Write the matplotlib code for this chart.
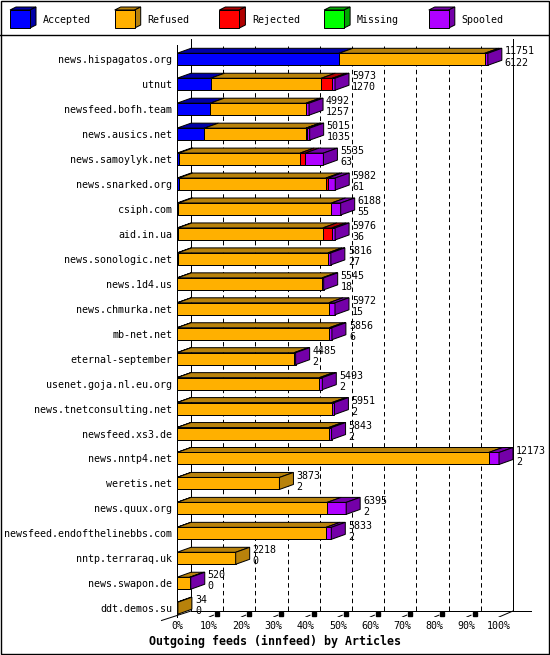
import matplotlib
matplotlib.use("Agg")
import matplotlib.pyplot as plt
from matplotlib.patches import Polygon, Rectangle

plt.rcParams['lines.scale_dashes'] = False

# ---------------- data ----------------
hosts = ["news.hispagatos.org", "utnut", "newsfeed.bofh.team", "news.ausics.net",
         "news.samoylyk.net", "news.snarked.org", "csiph.com", "aid.in.ua",
         "news.sonologic.net", "news.1d4.us", "news.chmurka.net", "mb-net.net",
         "eternal-september", "usenet.goja.nl.eu.org", "news.tnetconsulting.net",
         "newsfeed.xs3.de", "news.nntp4.net", "weretis.net", "news.quux.org",
         "newsfeed.endofthelinebbs.com", "nntp.terraraq.uk", "news.swapon.de",
         "ddt.demos.su"]
offered = [11751, 5973, 4992, 5015, 5535, 5982, 6188, 5976, 5816, 5545, 5972, 5856,
           4485, 5493, 5951, 5843, 12173, 3873, 6395, 5833, 2218, 520, 34]
accepted = [6122, 1270, 1257, 1035, 63, 61, 55, 36, 27, 18, 15, 6,
            2, 2, 2, 2, 2, 2, 2, 2, 0, 0, 0]
refused = [5509, 4183, 3615, 3840, 4592, 5566, 5783, 5475, 5679, 5467, 5727, 5750,
           4423, 5381, 5849, 5731, 11781, 3871, 5673, 5631, 2218, 480, 34]
rejected = [0, 420, 0, 30, 190, 75, 0, 340, 0, 0, 0, 0,
            0, 0, 0, 0, 0, 0, 0, 0, 0, 0, 0]
missing = [0] * 23
spooled = [120, 100, 120, 110, 690, 280, 350, 125, 110, 60, 230, 100,
           60, 110, 100, 110, 390, 0, 720, 200, 0, 40, 0]
series_names = ["Accepted", "Refused", "Rejected", "Missing", "Spooled"]
pct_ticks = [0, 10, 20, 30, 40, 50, 60, 70, 80, 90, 100]
xlabel = "Outgoing feeds (innfeed) by Articles"

# ---------------- style ----------------
front_cols = ['#0000FF', '#FFB000', '#FF0000', '#00FF00', '#B000FF']
dark_cols = ['#0000A8', '#B8820B', '#B00000', '#00A800', '#7400A8']
MONO = 'DejaVu Sans Mono'
FS = 7.2
LW = 0.72

W, H = 550, 655
fig = plt.figure(figsize=(W / 100, H / 100), dpi=100)
fig.patch.set_facecolor('white')

# border axes (pixel frame)
bax = fig.add_axes([0, 0, 1, 1], zorder=0)
bax.set_xlim(0, W); bax.set_ylim(H, 0); bax.axis('off')
bax.add_patch(Rectangle((0.5, 0.5), W - 1.5, H - 1.5, fill=False, ec='black', lw=LW * 1.4))
bax.plot([0, W], [35, 35], color='black', lw=LW * 1.4)

# ---------------- legend ----------------
lax = fig.add_axes([0, 1 - 35 / H, 1, 35 / H], zorder=2)
lax.set_xlim(0, W); lax.set_ylim(35, 0); lax.axis('off')
step = 104.7
for j, name in enumerate(series_names):
    x0 = 10 + step * j
    fw, fh, ddx, ddy, ytop = 20, 18, 6, 3, 10
    lax.add_patch(Polygon([(x0, ytop), (x0 + fw, ytop), (x0 + fw + ddx, ytop - ddy), (x0 + ddx, ytop - ddy)],
                          closed=True, fc=dark_cols[j], ec='black', lw=LW))
    lax.add_patch(Polygon([(x0 + fw, ytop), (x0 + fw + ddx, ytop - ddy), (x0 + fw + ddx, ytop + fh - ddy), (x0 + fw, ytop + fh)],
                          closed=True, fc=dark_cols[j], ec='black', lw=LW))
    lax.add_patch(Rectangle((x0, ytop), fw, fh, fc=front_cols[j], ec='black', lw=LW))
    lax.text(x0 + 33, 20, name, family=MONO, fontsize=FS, va='center', ha='left')

# ---------------- main plot ----------------
PXX = 3.22      # px per percent
PXY = 24.95     # px per row
ROW0 = 59.3     # px of first row center
AX_L, AX_R, AX_T, AX_B = 177, 549, 36, 617
ax = fig.add_axes([AX_L / W, 1 - AX_B / H, (AX_R - AX_L) / W, (AX_B - AX_T) / H], zorder=1)
ax.set_xlim(0, (AX_R - AX_L) / PXX)
ax.set_ylim((AX_B - ROW0) / PXY, (AX_T - ROW0) / PXY)
ax.patch.set_alpha(0)
for s in ax.spines.values():
    s.set_visible(False)

DX = 14 / PXX
DY = 5 / PXY
HH = 6 / PXY
floor_front = (AX_B - ROW0) / PXY
floor_back = (611 - ROW0) / PXY
top_back = (39 - ROW0) / PXY
top_front = (45 - ROW0) / PXY

# walls / axes lines
ax.plot([0, 0], [top_front, floor_front], color='black', lw=LW, clip_on=False, zorder=2)
ax.plot([DX, DX], [top_back, floor_back], color='black', lw=LW, zorder=1)
ax.plot([100 + DX, 100 + DX], [top_back, floor_back], color='black', lw=LW, zorder=1)
ax.plot([DX, 100 + DX + 18 / PXX], [floor_back, floor_back], color='black', lw=LW, zorder=1)
ax.plot([-15.5 / PXX, DX], [floor_back + 9.5 / PXY, floor_back], color='black', lw=LW, clip_on=False, zorder=1)
ax.plot([100, 100 + DX], [floor_front, floor_back], color='black', lw=LW, zorder=1)
for p in pct_ticks[1:-1]:
    ax.plot([p + DX, p + DX], [top_back + 0.3, floor_back], color='black', lw=LW,
            linestyle=(0, (3.2, 2.4)), zorder=1)
    ax.plot([p, p + DX * 0.3], [floor_front, floor_front - DY * 0.3 * 1.2], color='black', lw=LW, zorder=1)
    ax.plot([p + DX * 0.55], [floor_front - DY * 0.55 * 1.2], marker='s', ms=2.2, color='black', zorder=1)

TOT = max(offered)
series = [accepted, refused, rejected, missing, spooled]
for i in range(len(hosts)):
    cum = 0
    last = None
    for k, ser in enumerate(series):
        v = ser[i]
        if v <= 0:
            continue
        x0 = cum / TOT * 100
        x1 = (cum + v) / TOT * 100
        ax.add_patch(Polygon([(x0, i - HH), (x1, i - HH), (x1 + DX, i - HH - DY), (x0 + DX, i - HH - DY)],
                             closed=True, fc=dark_cols[k], ec='black', lw=LW, zorder=3, joinstyle='miter'))
        ax.add_patch(Polygon([(x0, i + HH), (x1, i + HH), (x1, i - HH), (x0, i - HH)],
                             closed=True, fc=front_cols[k], ec='black', lw=LW, zorder=3, joinstyle='miter'))
        cum += v
        last = k
    xe = cum / TOT * 100
    ax.add_patch(Polygon([(xe, i - HH), (xe + DX, i - HH - DY), (xe + DX, i + HH - DY), (xe, i + HH)],
                         closed=True, fc=dark_cols[last], ec='black', lw=LW, zorder=3, joinstyle='miter'))
    ax.text(xe + DX + 3 / PXX, i - 7.8 / PXY, str(offered[i]), family=MONO, fontsize=FS,
            va='center', ha='left', zorder=4, clip_on=False)
    ax.text(xe + DX + 3 / PXX, i + 3.2 / PXY, str(accepted[i]), family=MONO, fontsize=FS,
            va='center', ha='left', zorder=4, clip_on=False)

ax.set_yticks(range(len(hosts)), labels=hosts, family=MONO, fontsize=FS)
ax.set_xticks(pct_ticks, labels=[f"{p}%" for p in pct_ticks], family=MONO, fontsize=FS)
ax.tick_params(axis='both', length=0)
ax.tick_params(axis='y', pad=3.4)
ax.tick_params(axis='x', pad=3.0)

fig.text(0.5, 1 - 641.5 / H, xlabel, family=MONO, fontsize=8.4, fontweight='bold',
         ha='center', va='center')

fig.savefig("out.png", dpi=100, facecolor='white')
